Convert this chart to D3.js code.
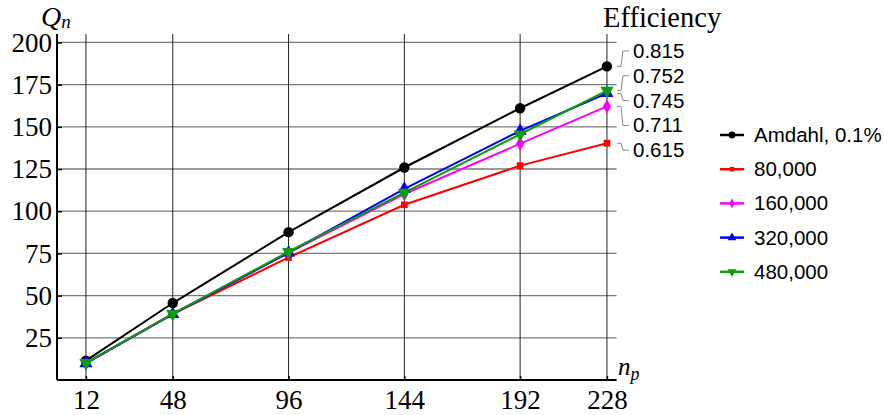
<!DOCTYPE html>
<html>
<head>
<meta charset="utf-8">
<script src="https://cdn.jsdelivr.net/npm/d3@7"></script>
<style>
  body { margin: 0; background: #fff; }
  svg { display: block; }
</style>
</head>
<body>
<svg id="chart" width="884" height="415"></svg>
<script>
// data
const np = [12, 48, 96, 144, 192, 228];
const yTicks = [25, 50, 75, 100, 125, 150, 175, 200];
const amdahl = [11.5, 45.6, 87.6, 125.9, 161.0, 185.8];
const s80k = [10.2, 39.1, 72.6, 103.8, 127.0, 140.3];
const s160k = [10.0, 39.2, 75.4, 110.2, 140.0, 162.1];
const s320k = [9.8, 39.0, 75.4, 113.2, 147.6, 169.9];
const s480k = [10.2, 39.2, 76.0, 111.0, 145.6, 171.5];
const seriesNames = ["Amdahl, 0.1%", "80,000", "160,000", "320,000", "480,000"];
const seriesColors = ["#000000", "#ff0000", "#ff00ff", "#0000ff", "#0a9e0a"];
const seriesSymbols = [d3.symbolCircle, d3.symbolSquare, d3.symbolDiamond, d3.symbolTriangle, d3.symbolTriangle];
const efficiency = ["0.815", "0.615", "0.711", "0.745", "0.752"];
// order of labels from top to bottom (index into series)
const labelOrder = [0, 4, 3, 2, 1];

const allSeries = [amdahl, s80k, s160k, s320k, s480k];

const svg = d3.select("#chart");
const serif = "'Liberation Serif', 'Times New Roman', serif";
const sans = "'Liberation Sans', Arial, sans-serif";

const x = d3.scaleLinear().domain([0, 232]).range([57, 616.6]);
const y = d3.scaleLinear().domain([0, 205]).range([380, 34]);

// grid
svg.append("g").selectAll("line").data(yTicks).join("line")
    .attr("x1", x(0)).attr("x2", x(232))
    .attr("y1", d => y(d)).attr("y2", d => y(d))
    .attr("stroke", "#7a7a7a").attr("stroke-width", 1.3);

svg.append("g").selectAll("line").data(np).join("line")
    .attr("x1", d => x(d)).attr("x2", d => x(d))
    .attr("y1", y(0)).attr("y2", y(205))
    .attr("stroke", "#222").attr("stroke-width", 1);

// axes
const yAxis = svg.append("g")
    .attr("transform", `translate(${x(0)},0)`)
    .call(d3.axisLeft(y).tickValues(yTicks).tickSize(-5).tickPadding(5));
yAxis.select(".domain").attr("stroke-width", 2).attr("d", `M0,${y(205)}V${y(0)}`);
yAxis.selectAll(".tick line").attr("stroke-width", 1.5);
yAxis.selectAll("text").style("font-family", serif).style("font-size", "27px").attr("fill", "#000");

const xAxis = svg.append("g")
    .attr("transform", `translate(0,${y(0)})`)
    .call(d3.axisBottom(x).tickValues(np).tickSize(-4).tickPadding(10));
xAxis.select(".domain").attr("stroke-width", 2).attr("d", `M${x(0)},0H${x(232)}`);
xAxis.selectAll(".tick line").attr("stroke-width", 1.5);
xAxis.selectAll("text").style("font-family", serif).style("font-size", "27px").attr("fill", "#000");

// axis labels
const qLabel = svg.append("text").attr("x", 41).attr("y", 26)
    .style("font-family", serif).style("font-style", "italic").style("font-size", "28px");
qLabel.append("tspan").text("Q");
qLabel.append("tspan").style("font-size", "19px").attr("dy", 2).text("n");

const nLabel = svg.append("text").attr("x", 618).attr("y", 375)
    .style("font-family", serif).style("font-style", "italic").style("font-size", "25px");
nLabel.append("tspan").text("n");
nLabel.append("tspan").style("font-size", "18px").attr("dy", 5).text("p");

svg.append("text").attr("x", 603).attr("y", 27)
    .style("font-family", serif).style("font-size", "28.5px").text("Efficiency");

// lines + markers
const line = d3.line().x((d, i) => x(np[i])).y(d => y(d));
const markerSize = [85, 45, 60, 75, 75];

allSeries.forEach((vals, s) => {
    const g = svg.append("g");
    g.append("path").datum(vals)
        .attr("d", line)
        .attr("fill", "none")
        .attr("stroke", seriesColors[s])
        .attr("stroke-width", 2);
    g.selectAll("path.m").data(vals).join("path")
        .attr("class", "m")
        .attr("d", d3.symbol().type(seriesSymbols[s]).size(markerSize[s]))
        .attr("transform", (d, i) => `translate(${x(np[i])},${y(d)})` + (s === 4 ? " rotate(180)" : ""))
        .attr("fill", seriesColors[s]);
});

// efficiency callouts
const last = np.length - 1;
labelOrder.forEach((s, k) => {
    const py = y(allSeries[s][last]);
    const ly = 51 + k * 24.8;
    svg.append("path")
        .attr("d", `M${x(228) + 10},${py}L${x(228) + 14},${py}L${x(228) + 16},${ly}L${x(228) + 22},${ly}`)
        .attr("fill", "none").attr("stroke", "#8a8a8a").attr("stroke-width", 1);
    svg.append("text")
        .attr("x", 633).attr("y", ly + 7)
        .style("font-family", sans).style("font-size", "20.5px")
        .text(efficiency[s]);
});

// legend
seriesNames.forEach((name, s) => {
    const ly = 135 + s * 34.2;
    const g = svg.append("g");
    g.append("line").attr("x1", 720).attr("x2", 744).attr("y1", ly).attr("y2", ly)
        .attr("stroke", seriesColors[s]).attr("stroke-width", 2.5);
    g.append("path")
        .attr("d", d3.symbol().type(seriesSymbols[s]).size(markerSize[s] * 0.45))
        .attr("transform", `translate(732,${ly})` + (s === 4 ? " rotate(180)" : ""))
        .attr("fill", seriesColors[s]);
    g.append("text").attr("x", 754).attr("y", ly + 7)
        .style("font-family", sans).style("font-size", "20.5px")
        .text(name);
});
</script>
</body>
</html>
